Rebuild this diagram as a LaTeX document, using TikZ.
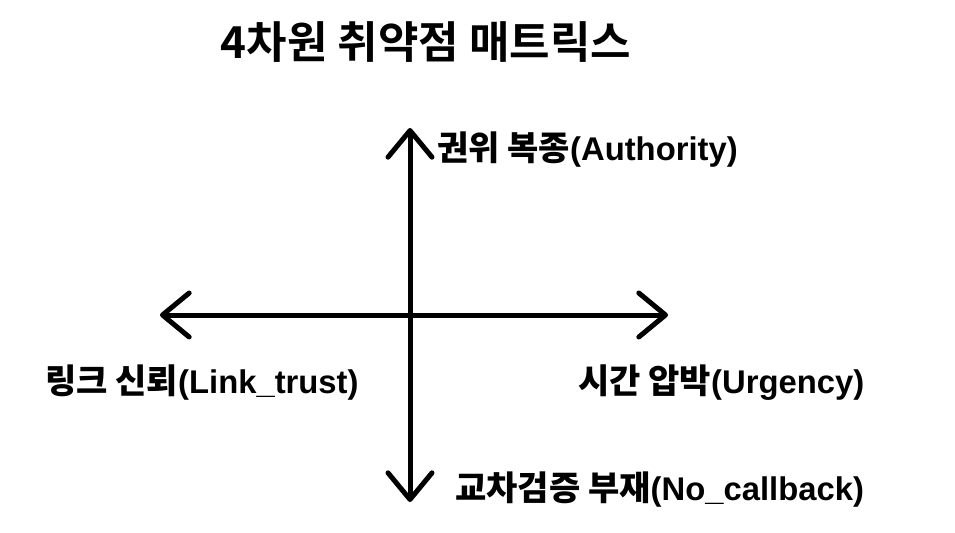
\documentclass[tikz,border=0pt]{standalone}
\usepackage{fontspec}
\setmainfont{Liberation Sans}
\newfontfamily\kr{Noto Sans CJK KR Bold}
\usepackage{tikz}
\usetikzlibrary{arrows.meta,positioning}
\newcommand\krlabel[1]{{\kr\fontsize{25.5}{28}\selectfont #1}}
\tikzset{%
	axis/.style  = {line width=3.75pt,line cap=round,{Straight Barb[round,length=20pt,width=33pt]}-{Straight Barb[round,length=20pt,width=33pt]}},
	label/.style = {font=\bfseries\fontsize{24.6}{27}\selectfont,inner sep=0pt,anchor=west},
	title/.style = {font=\kr\fontsize{33}{36}\selectfont,inner sep=0pt},
}
\begin{document}
\begin{tikzpicture}[x=0.75pt,y=-0.75pt]
	\useasboundingbox (0,0) rectangle (955,532);
	
	\node[title] (heading) at (426,42) {4차원 취약점 매트릭스};
	
	\coordinate (top) at (410,128);     % Authority
	\coordinate (bottom) at (410,502);  % No_callback
	\coordinate (left) at (160,315);    % Link_trust
	\coordinate (right) at (668,315);   % Urgency
	\draw[axis] (bottom) -- (top);
	\draw[axis] (left) -- (right);
	
	\node[label] (authority) at (437,150) {\krlabel{권위 복종}(Authority)};
	\node[label] (linktrust) at (45,383) {\krlabel{링크 신뢰}(Link\_trust)};
	\node[label] (urgency) at (578,383) {\krlabel{시간 압박}(Urgency)};
	\node[label] (nocallback) at (455,490) {\krlabel{교차검증 부재}(No\_callback)};
\end{tikzpicture}
\end{document}
